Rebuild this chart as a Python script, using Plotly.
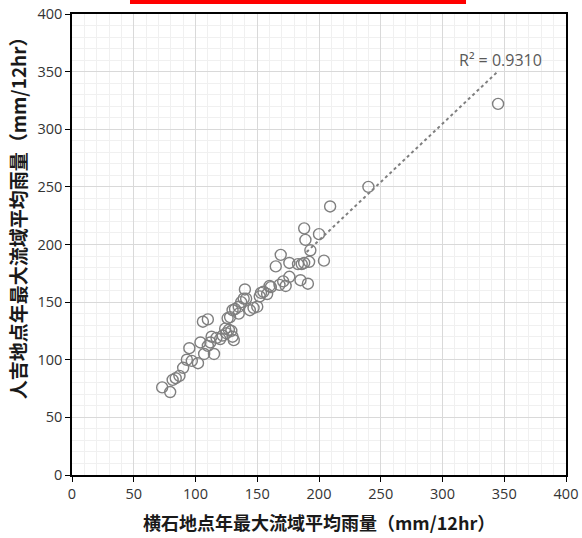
import numpy as np
import plotly.graph_objects as go

# 横石地点 (x) と 人吉地点 (y) の年最大12時間流域平均雨量 [mm/12hr]
yokoishi = [
    73, 79.5, 81.5, 84, 87, 90, 93, 95, 97, 102,
    104, 106, 110, 107, 110, 112, 113, 115, 117, 120,
    122, 124, 125, 126, 127, 128, 129, 130, 131, 132, 130,
    135, 135, 137, 139, 141, 140, 144, 147, 150, 152,
    153, 155, 158, 160, 161,
    165, 169, 168, 171, 173, 176, 176, 183, 185, 186,
    188, 188, 189, 191, 192, 193, 200, 204, 209,
    240, 345,
]
hitoyoshi = [
    76, 72, 82.5, 84, 86, 93, 100, 110, 99, 97,
    115, 133, 135, 105, 112, 115, 120, 105, 119, 118,
    121, 127, 123, 136, 126, 137, 125, 120, 117, 144, 143,
    140, 146, 150, 153, 153, 161, 143, 145, 146, 155,
    158, 159, 157, 164, 163,
    181, 191, 165, 168, 164, 172, 184, 183, 169, 183,
    184, 214, 204, 166, 185, 195, 209, 186, 233,
    250, 322,
]

# 近似直線 (y = a x + b) とその決定係数
trend_slope = 1.012
trend_intercept = 1.2
trend_x_start = 190
r2_text = "R² = 0.9310"

x_title = "横石地点年最大流域平均雨量（mm/12hr）"
y_title = "人吉地点年最大流域平均雨量（mm/12hr）"
tick_vals = list(range(0, 401, 50))

trend_x = np.array([trend_x_start, max(yokoishi)], dtype=float)
trend_y = trend_slope * trend_x + trend_intercept

grey = "#7f7f7f"
tick_font = dict(family="Open Sans, Noto Sans, sans-serif", size=14.5, color="#333333")
title_font = dict(family="Noto Sans CJK JP", size=18, color="#1a1a1a")

fig = go.Figure()
fig.add_trace(go.Scatter(
    x=yokoishi, y=hitoyoshi, mode="markers",
    marker=dict(symbol="circle-open", size=11, color=grey,
                line=dict(width=1.4, color=grey)),
    showlegend=False, hoverinfo="x+y",
))
fig.add_trace(go.Scatter(
    x=trend_x, y=trend_y, mode="lines",
    line=dict(color=grey, width=2, dash="dot"),
    showlegend=False, hoverinfo="skip",
))

axis_common = dict(
    range=[0, 400], tickvals=tick_vals, automargin=False,
    showgrid=True, gridcolor="#d9d9d9", gridwidth=1,
    minor=dict(dtick=10, showgrid=True, gridcolor="#f0f0f0", gridwidth=1),
    showline=True, linecolor="black", linewidth=1.5, mirror=True,
    ticks="outside", ticklen=5, tickcolor="black", tickwidth=1.2,
    zeroline=False, tickfont=tick_font,
)

fig.update_layout(
    width=582, height=538,
    margin=dict(l=72, r=16, t=14, b=63),
    paper_bgcolor="white", plot_bgcolor="white",
    xaxis=dict(**axis_common),
    yaxis=dict(**axis_common),
    font=dict(family="Noto Sans CJK JP"),
)

# 軸タイトル
fig.add_annotation(
    x=0.5, y=-0.102, xref="paper", yref="paper", text="<b>" + x_title + "</b>",
    showarrow=False, font=title_font, xanchor="center", yanchor="middle",
)
fig.add_annotation(
    x=-0.111, y=0.568, xref="paper", yref="paper", text="<b>" + y_title + "</b>",
    showarrow=False, font=dict(title_font, size=19), textangle=-90,
    xanchor="center", yanchor="middle",
)

fig.add_annotation(
    x=347, y=360, xref="x", yref="y", text=r2_text, showarrow=False,
    font=dict(family="Open Sans, Noto Sans, sans-serif", size=16, color="#595959"),
    xanchor="center", yanchor="middle",
)

# 上部の赤枠
fig.add_shape(
    type="rect", xref="paper", yref="paper",
    x0=0.1174, x1=0.7976, y0=1.0217, y1=1.06,
    fillcolor="#ff0000", line=dict(width=0), layer="above",
)

fig.write_html("out.html")
